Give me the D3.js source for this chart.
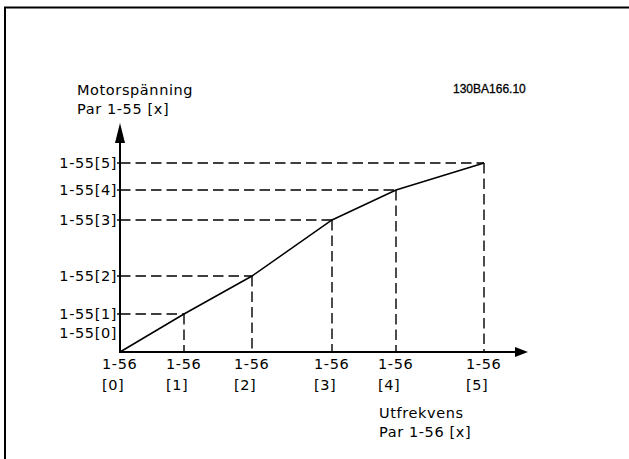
<!DOCTYPE html>
<html><head><meta charset="utf-8">
<script src="https://cdn.jsdelivr.net/npm/d3@7"></script>
<style>
html,body{margin:0;padding:0;background:#fff;}
svg{display:block;}
.lbl{font-family:"DejaVu Sans",Verdana,sans-serif;font-size:14.5px;letter-spacing:0.6px;fill:#000;}
</style></head>
<body>
<script>
// Data
const pointIndex = [0, 1, 2, 3, 4, 5];
const freqValues = [0, 16, 33, 53, 69, 91];      // output frequency, par 1-56[x]
const voltValues = [0, 19, 38, 66, 81, 94.5];    // motor voltage, par 1-55[x]
const xTickTop = ["1-56", "1-56", "1-56", "1-56", "1-56", "1-56"];
const xTickBottom = ["[0]", "[1]", "[2]", "[3]", "[4]", "[5]"];
const yTickLabels = ["1-55[0]", "1-55[1]", "1-55[2]", "1-55[3]", "1-55[4]", "1-55[5]"];
const yTitle = ["Motorspänning", "Par 1-55 [x]"];
const xTitle = ["Utfrekvens", "Par 1-56 [x]"];
const drawingId = "130BA166.10";

const W = 629, H = 459;
const svg = d3.select("body").append("svg").attr("width", W).attr("height", H);

// frame (partially clipped, as in the reference)
svg.append("rect").attr("x", 5).attr("y", 7.5).attr("width", 800).attr("height", 700)
  .attr("fill", "none").attr("stroke", "#000").attr("stroke-width", 2);

const x = d3.scaleLinear().domain([0, 100]).range([120, 520]);
const y = d3.scaleLinear().domain([0, 100]).range([352, 152]);

const x0 = x(0), y0 = y(0);
const g = svg.append("g");

// dashed guide lines
const dash = "10.5,5";
pointIndex.slice(1).forEach(i => {
  g.append("line").attr("x1", x0).attr("x2", x(freqValues[i]))
    .attr("y1", y(voltValues[i])).attr("y2", y(voltValues[i]))
    .attr("stroke", "#000").attr("stroke-width", 1.4).attr("stroke-dasharray", dash);
  g.append("line").attr("x1", x(freqValues[i])).attr("x2", x(freqValues[i]))
    .attr("y1", y(voltValues[i])).attr("y2", y0)
    .attr("stroke", "#000").attr("stroke-width", 1.4).attr("stroke-dasharray", dash);
});

// curve
const line = d3.line().x(i => x(freqValues[i])).y(i => y(voltValues[i]));
g.append("path").attr("d", line(pointIndex)).attr("fill", "none")
  .attr("stroke", "#000").attr("stroke-width", 1.5);

// axes
const yTop = y(114.5), xEnd = x(102);
g.append("line").attr("x1", x0).attr("x2", x0).attr("y1", y0 + 1).attr("y2", yTop + 15)
  .attr("stroke", "#000").attr("stroke-width", 2);
g.append("path").attr("d", `M${x0},${yTop} L${x0 - 5},${yTop + 20} L${x0 + 5},${yTop + 20} Z`).attr("fill", "#000");
g.append("line").attr("x1", x0 - 1).attr("x2", xEnd - 10).attr("y1", y0).attr("y2", y0)
  .attr("stroke", "#000").attr("stroke-width", 2);
g.append("path").attr("d", `M${xEnd},${y0} L${xEnd - 13},${y0 - 5} L${xEnd - 13},${y0 + 5} Z`).attr("fill", "#000");

// y tick marks + labels
pointIndex.slice(1).forEach(i => {
  g.append("line").attr("x1", x0 - 3).attr("x2", x0).attr("y1", y(voltValues[i])).attr("y2", y(voltValues[i]))
    .attr("stroke", "#000").attr("stroke-width", 1.4);
  g.append("text").attr("class", "lbl").attr("x", x0 - 3).attr("y", y(voltValues[i]) + 5)
    .attr("text-anchor", "end").text(yTickLabels[i]);
});
g.append("text").attr("class", "lbl").attr("x", x0 - 3).attr("y", y(voltValues[1]) + 24)
  .attr("text-anchor", "end").text(yTickLabels[0]);

// x tick labels
pointIndex.forEach(i => {
  const t = g.append("text").attr("class", "lbl").attr("x", x(freqValues[i]) - 18).attr("y", y0 + 17);
  t.append("tspan").attr("x", x(freqValues[i]) - 18).text(xTickTop[i]);
  t.append("tspan").attr("x", x(freqValues[i]) - 18).attr("dy", 21).text(xTickBottom[i]);
});

// axis titles
const yt = g.append("text").attr("class", "lbl").attr("x", 77).attr("y", 95);
yTitle.forEach((s, k) => yt.append("tspan").attr("x", 77).attr("dy", k ? 19 : 0).text(s));
const xt = g.append("text").attr("class", "lbl").attr("x", 379).attr("y", 418);
xTitle.forEach((s, k) => xt.append("tspan").attr("x", 379).attr("dy", k ? 19 : 0).text(s));

// drawing id
g.append("text").attr("x", 453).attr("y", 93)
  .attr("font-family", "Liberation Sans, Arial, sans-serif").attr("font-size", 12)
  .attr("stroke", "#000").attr("stroke-width", 0.3).attr("fill", "#000").text(drawingId);
</script>
</body></html>
